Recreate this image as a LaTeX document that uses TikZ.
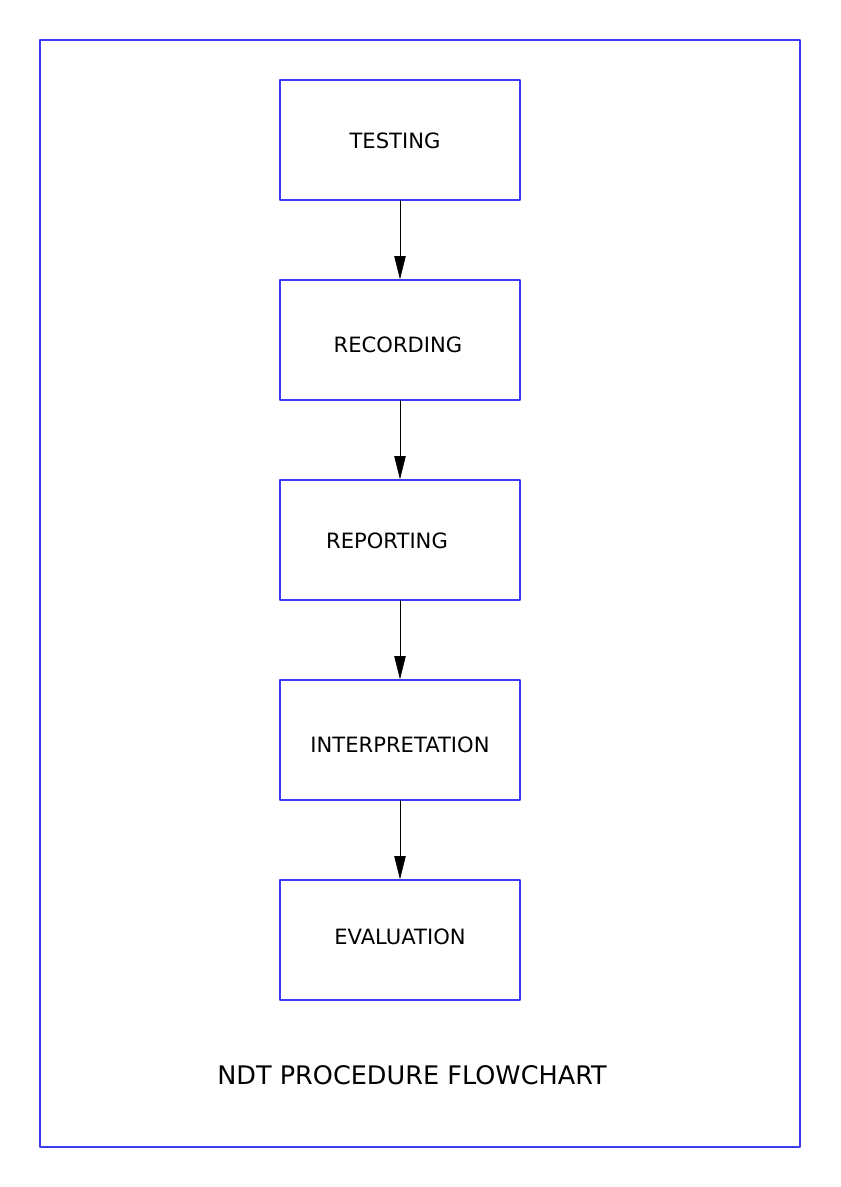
\documentclass[tikz,border=0pt]{standalone}
\usepackage{fontspec}
\setmainfont{DejaVu Sans}
\usetikzlibrary{arrows.meta}

\definecolor{framecol}{RGB}{60,60,245}

\tikzset{
  stepbox/.style={draw=framecol,line width=0.9pt,minimum width=7.2cm,minimum height=3.6cm,inner sep=0pt},
  steptext/.style={font=\fontsize{18}{22}\selectfont,inner sep=0pt,anchor=center},
  flow/.style={-{Triangle[length=0.7cm,width=0.34cm]},line width=0.8pt,black}
}

\begin{document}
\begin{tikzpicture}[line cap=round,line join=round,x=0.03cm,y=-0.03cm]
      \useasboundingbox (0,0) rectangle (840,1187);
      \draw[draw=framecol,line width=0.9pt] (40,40) rectangle (800,1147);

      % the five steps
      \foreach \n/\y in {a/140,b/340,c/540,d/740,e/940}{
        \node[stepbox] (\n) at (400,\y) {};
      }
      \node[steptext] (ta) at (395,141) {TESTING};
      \node[steptext] (tb) at (398,345) {RECORDING};
      \node[steptext] (tc) at (387,541) {REPORTING};
      \node[steptext] (td) at (400,745) {INTERPRETATION};
      \node[steptext] (te) at (400,937) {EVALUATION};

      \foreach \p/\q in {a/b,b/c,c/d,d/e}{
        \draw[flow] (\p.south) -- (\q.north);
      }

      \node[font=\fontsize{21.8}{26}\selectfont,inner sep=0pt] (title) at (412,1075) {NDT PROCEDURE FLOWCHART};
    \end{tikzpicture}
\end{document}
